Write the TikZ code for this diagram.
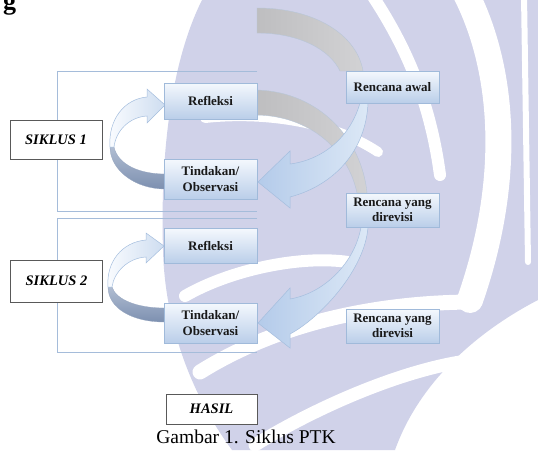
\documentclass[tikz,border=0pt]{standalone}
\usepackage{fontspec}
\setmainfont{Liberation Serif}
\definecolor{lav}{RGB}{208,210,233}
\definecolor{frameblue}{RGB}{165,188,218}
\definecolor{boxtop}{RGB}{244,248,253}
\definecolor{boxbot}{RGB}{186,206,233}
\definecolor{boxline}{RGB}{160,186,218}
\definecolor{greyA}{RGB}{190,190,192}
\definecolor{greyB}{RGB}{210,210,212}
\definecolor{bandline}{RGB}{184,198,216}
\definecolor{arrowA}{RGB}{180,203,234}
\definecolor{arrowB}{RGB}{220,232,246}
\definecolor{arrowline}{RGB}{165,190,222}
\definecolor{ribbonA}{RGB}{125,144,176}
\definecolor{ribbonB}{RGB}{176,189,210}
\definecolor{paleA}{RGB}{250,252,255}
\definecolor{paleB}{RGB}{206,221,240}
\tikzset{
  pbox/.style={draw=boxline, line width=0.6pt, top color=boxtop, bottom color=boxbot,
    minimum width=93pt, align=center, inner sep=0pt, text=black!90,
    font=\fontsize{13}{15.5}\selectfont\bfseries},
  sbox/.style={draw=black!65, fill=white, line width=0.7pt, inner sep=0pt,
    minimum width=92pt, font=\fontsize{14.5}{16}\selectfont\bfseries\itshape},
  frameln/.style={draw=frameblue, line width=0.9pt},
  wstripe/.style={draw=white, line cap=round},
  greyband/.style={left color=greyA, right color=greyB, draw=bandline, line width=0.4pt},
  bluearrow/.style={left color=arrowA, right color=arrowB, draw=arrowline, line width=0.5pt},
  palepart/.style={left color=paleA, right color=paleB, draw=arrowline, line width=0.5pt},
  darkpart/.style={top color=ribbonB, bottom color=ribbonA, draw=ribbonA!80, line width=0.3pt}
}
\begin{document}
\begin{tikzpicture}[x=1pt, y=-1pt]
\useasboundingbox (0,0) rectangle (538,450);
\clip (0,0) rectangle (538,450);
% watermark
\fill[lav] (202,0) -- (538,0) -- (538,300) .. controls (480,330) and (420,380) .. (395,450)
  -- (232,450) .. controls (195,400) and (165,330) .. (163,250)
  .. controls (160,150) and (172,60) .. (202,0) -- cycle;
\draw[wstripe, line width=12pt] (372,-5) .. controls (405,45) and (430,100) .. (440,175);
\draw[wstripe, line width=26pt] (465,-8) .. controls (505,70) and (512,180) .. (470,300);
\draw[wstripe, line width=6pt] (524,-5) -- (528,262);
\draw[wstripe, line width=10pt] (205,118) .. controls (260,112) and (330,120) .. (378,152);
\draw[wstripe, line width=12pt] (185,296) .. controls (230,270) and (300,255) .. (348,262);
\draw[wstripe, line width=15pt] (200,372) .. controls (280,322) and (380,302) .. (475,302);
\draw[wstripe, line width=13pt] (255,445) .. controls (320,405) and (400,372) .. (460,362);
% frames
\draw[frameln] (257,71) -- (57,71) -- (57,211) -- (257,211);
\draw[frameln] (257,218) -- (57,218) -- (57,352) -- (257,352);
% top text remnant
\node[anchor=base west, inner sep=0pt, font=\fontsize{26}{28}\selectfont\bfseries] (gtxt) at (3,9) {g};
% grey bands
\path[greyband] (257,8) .. controls (315,8) and (357,35) .. (363,71) -- (340,71)
  .. controls (330,50) and (300,33) .. (257,33) -- cycle;
\path[greyband] (257,90) .. controls (320,92) and (362,140) .. (367,193) -- (357,193)
  .. controls (348,150) and (310,116) .. (257,115) -- cycle;
% blue arrows
\path[bluearrow] (258,182) -- (290,151) -- (290,164) .. controls (322,160) and (350,138) .. (360,103)
  -- (368,103) .. controls (366,150) and (335,185) .. (290,197) -- (290,208) -- cycle;
\path[bluearrow] (258,323) -- (290,288) -- (290,299) .. controls (325,293) and (355,262) .. (361,227)
  -- (368,227) .. controls (365,270) and (320,318) .. (290,334) -- (290,348) -- cycle;
% circular arrows
\path[darkpart] (110,147) .. controls (110,170) and (135,189) .. (165,189) -- (165,174)
  .. controls (140,174) and (118,165) .. (114,147) -- cycle;
\path[palepart] (165,105) -- (147,89) -- (147,97) .. controls (124,99) and (108,120) .. (110,147)
  -- (114,147) .. controls (116,130) and (130,117) .. (147,116) -- (147,123) -- cycle;
\path[darkpart] (108,287) .. controls (108,308) and (132,322) .. (164,322) -- (164,308)
  .. controls (138,308) and (116,300) .. (112,287) -- cycle;
\path[palepart] (164,246) -- (146,233) -- (146,240) .. controls (122,242) and (106,262) .. (108,287)
  -- (112,287) .. controls (114,272) and (128,258) .. (146,257) -- (146,263) -- cycle;
% boxes
\node[pbox, minimum height=36pt] (ref1) at (210.5,101) {Refleksi};
\node[pbox, minimum height=40pt] (tin1) at (210.5,179) {Tindakan/\\Observasi};
\node[pbox, minimum height=35pt] (ref2) at (210.5,246) {Refleksi};
\node[pbox, minimum height=40pt] (tin2) at (210.5,323) {Tindakan/\\Observasi};
\node[pbox, minimum height=32pt] (awal) at (392.5,87) {Rencana awal};
\node[pbox, minimum height=34pt] (rev1) at (392.5,210) {Rencana yang\\direvisi};
\node[pbox, minimum height=34pt] (rev2) at (392.5,326) {Rencana yang\\direvisi};
\node[sbox, minimum height=39pt] (s1) at (56,139.5) {SIKLUS 1};
\node[sbox, minimum height=42pt] (s2) at (56.5,281) {SIKLUS 2};
\node[sbox, minimum width=91pt, minimum height=30pt] (hasil) at (211.5,409) {HASIL};
\node[anchor=base, inner sep=0pt, font=\fontsize{19.5}{21}\selectfont] (cap) at (246,443) {Gambar 1. Siklus PTK};
\end{tikzpicture}
\end{document}
